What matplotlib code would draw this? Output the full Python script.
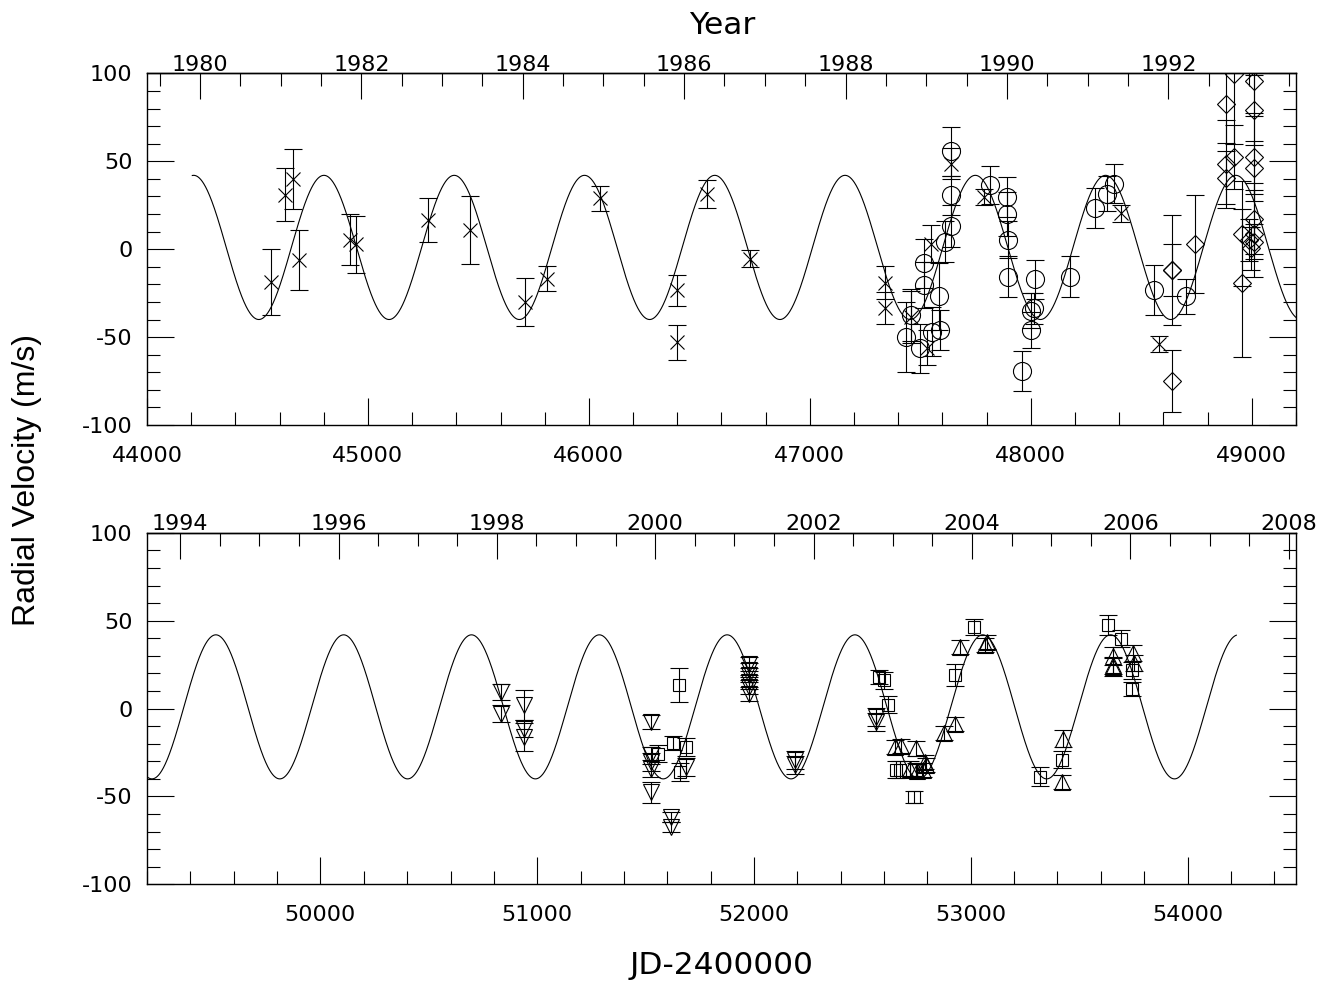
import numpy as np
import matplotlib.pyplot as plt
from matplotlib.ticker import MultipleLocator, FixedLocator, StrMethodFormatter

plt.rcParams['font.family'] = ['DejaVu Sans']
plt.rcParams['axes.unicode_minus'] = False

# circular orbit fit shown as the solid line
period = 589.6
k_amp = 41.0
gamma = 1.0
t_peak = 49517.6
model_start, model_end = 44205, 54225

# top panel data sets
cross_jd = [44561, 44623, 44659, 44688, 44919, 44948, 45274, 45462, 45712, 45809, 46049, 46398,
            46398, 46536, 46729, 47342, 47342, 47459, 47531, 47546, 47637, 47788, 48410, 48580]
cross_rv = [-18.6, 31.1, 39.8, -6.3, 5.5, 2.8, 16.5, 10.8, -30.1, -16.7, 29.0, -23.3,
            -53.0, 31.6, -5.3, -19.1, -33.4, -38.5, -56.0, 3.2, 48.7, 29.7, 20.3, -53.9]
cross_err = [18.9, 15.2, 17.0, 17.0, 14.5, 16.3, 12.6, 19.3, 13.8, 7.1, 7.1, 8.8,
             10.1, 8.0, 4.7, 9.4, 9.2, 15.0, 10.0, 10.4, 9.0, 4.7, 4.7, 4.7]

circ_jd = [47433, 47459, 47498, 47516, 47516, 47554, 47584, 47588, 47611, 47637, 47637, 47637,
           47815, 47893, 47891, 47895, 47896, 47961, 47999, 48002, 48019, 48016, 48177, 48290,
           48346, 48376, 48558, 48701]
circ_rv = [-49.8, -37.5, -56.4, -8.1, -20.5, -47.0, -26.7, -46.0, 4.2, 13.1, 30.7, 55.8,
           36.4, 29.7, 19.9, 5.5, -15.7, -69.1, -35.0, -46.0, -17.2, -33.7, -15.7, 23.5,
           31.6, 37.3, -23.3, -26.7]
circ_err = [19.9, 15.0, 13.9, 13.9, 13.0, 13.9, 19.0, 11.4, 11.6, 12.0, 11.0, 13.9,
            10.8, 11.6, 12.5, 10.4, 11.6, 11.4, 10.0, 10.0, 11.2, 9.0, 11.6, 11.5,
            10.0, 11.0, 14.2, 9.9]

diam_jd = [48641, 48641, 48641, 48742, 48882, 48882, 48882, 48920, 48920, 48958, 48958, 48988,
           48996, 49008, 49008, 49008, 49008, 49008, 49008, 49008]
diam_rv = [-11.9, -11.9, -74.8, 3.2, 82.4, 48.3, 40.7, 99.8, 52.4, 8.9, -19.1, 5.1,
           0.4, 95.6, 79.3, 52.4, 46.4, 17.4, 8.9, 4.2]
diam_err = [31.2, 15.0, 17.7, 27.9, 22.0, 25.0, 15.0, 40.0, 18.0, 30.0, 42.0, 12.0,
            12.0, 20.0, 20.0, 25.0, 15.0, 20.0, 25.0, 10.0]

# bottom panel data sets
dtri_jd = [50832, 50832, 50937, 50937, 50937, 51523, 51523, 51523, 51523, 51523, 51617, 51617,
           51685, 51979, 51979, 51979, 51979, 51979, 51979, 52190, 52190, 52563, 52563]
dtri_rv = [9.5, -2.8, 1.9, -11.4, -16.1, -7.6, -26.6, -30.4, -34.2, -47.5, -61.7, -67.4,
           -33.2, 25.6, 22.2, 19.0, 15.2, 12.3, 8.5, -32.2, -29.4, -4.7, -7.6]
dtri_err = [4.6, 4.8, 8.5, 5.0, 8.0, 4.0, 5.0, 5.0, 5.0, 6.0, 3.0, 3.0,
            5.0, 4.0, 4.0, 4.0, 4.0, 4.0, 4.0, 5.0, 5.0, 5.0, 5.0]

sq_jd = [51557, 51625, 51656, 51685, 51659, 52576, 52598, 52619, 52655, 52673, 52737, 52746,
         52928, 53015, 53318, 53422, 53634, 53691, 53744, 53744]
sq_rv = [-25.6, -19.5, 13.7, -21.8, -36.1, 18.0, 16.1, 2.3, -34.7, -34.7, -50.2, -35.0,
         19.0, 46.4, -38.8, -29.0, 47.4, 39.8, 21.8, 11.4]
sq_err = [5.0, 4.0, 9.7, 5.0, 5.0, 4.0, 5.0, 5.0, 5.0, 5.0, 3.4, 4.0,
          6.2, 4.5, 5.3, 5.0, 5.7, 5.0, 5.0, 4.0]

utri_jd = [52650, 52680, 52749, 52720, 52754, 52780, 52794, 52789, 52876, 52928, 52950, 53075,
           53066, 53426, 53419, 53657, 53657, 53657, 53749, 53752]
utri_rv = [-21.8, -21.4, -22.7, -34.1, -35.4, -34.7, -32.2, -30.3, -13.8, -8.9, 35.1, 37.9,
           36.0, -17.1, -41.7, 29.8, 24.6, 23.7, 31.6, 26.0]
utri_err = [4.0, 4.0, 4.0, 4.0, 4.0, 4.0, 4.0, 4.0, 4.0, 4.0, 4.0, 4.0,
            4.0, 5.0, 4.0, 5.0, 5.0, 5.0, 4.5, 4.5]

# year ticks on the top edge of each panel
top_years = [1980, 1982, 1984, 1986, 1988, 1990, 1992]
bottom_years = [1994, 1996, 1998, 2000, 2002, 2004, 2006, 2008]


def jd_to_year(jd):
    return 1980.0 + (np.asarray(jd) - 44239.5) / 365.25


def year_to_jd(yr):
    return 44239.5 + (np.asarray(yr) - 1980.0) * 365.25


fig = plt.figure(figsize=(13.22, 9.82), dpi=100)
ax1 = fig.add_axes([0.1112, 0.5672, 0.8691, 0.3581])
ax2 = fig.add_axes([0.1112, 0.0995, 0.8691, 0.3578])

t_model = np.linspace(model_start, model_end, 6000)
v_model = gamma + k_amp * np.cos(2 * np.pi * (t_model - t_peak) / period)

err_kw = dict(linestyle='none', mfc='none', mec='k', ecolor='k', elinewidth=0.8,
              capsize=6.5, capthick=0.8, mew=0.8)

ax1.errorbar(cross_jd, cross_rv, yerr=cross_err, fmt='x', ms=10, **err_kw)
ax1.errorbar(circ_jd, circ_rv, yerr=circ_err, fmt='o', ms=13, **err_kw)
ax1.errorbar(diam_jd, diam_rv, yerr=diam_err, fmt='D', ms=9, **err_kw)

ax2.errorbar(dtri_jd, dtri_rv, yerr=dtri_err, fmt='v', ms=11, **err_kw)
ax2.errorbar(sq_jd, sq_rv, yerr=sq_err, fmt='s', ms=9, **err_kw)
ax2.errorbar(utri_jd, utri_rv, yerr=utri_err, fmt='^', ms=11, **err_kw)

for ax, lo, hi, years in [(ax1, 44000, 49200, top_years), (ax2, 49200, 54500, bottom_years)]:
    ax.plot(t_model, v_model, color='k', lw=0.8)
    ax.set_xlim(lo, hi)
    ax.set_ylim(-100, 100)
    for sp in ax.spines.values():
        sp.set_linewidth(1.0)
    ax.xaxis.set_major_locator(MultipleLocator(1000))
    ax.xaxis.set_minor_locator(MultipleLocator(200))
    ax.yaxis.set_major_locator(MultipleLocator(50))
    ax.yaxis.set_minor_locator(MultipleLocator(10))
    ax.tick_params(which='both', direction='in', top=False, right=True, width=0.8)
    ax.tick_params(which='major', length=19.5, labelsize=16)
    ax.tick_params(which='minor', length=9.5)
    ax.tick_params(axis='x', which='major', pad=15)
    ax.tick_params(axis='y', which='major', pad=10.5)

    yr_lo, yr_hi = jd_to_year(lo), jd_to_year(hi)
    minor_years = [y for y in np.arange(1979.5, 2009.0, 0.5) if yr_lo < y < yr_hi]
    sec = ax.secondary_xaxis('top', functions=(jd_to_year, year_to_jd))
    sec.xaxis.set_major_locator(FixedLocator(years))
    sec.xaxis.set_minor_locator(FixedLocator(minor_years))
    sec.xaxis.set_major_formatter(StrMethodFormatter('{x:.0f}'))
    sec.tick_params(which='both', direction='in', width=0.8)
    sec.tick_params(which='major', length=19, labelsize=16, pad=-1)
    sec.tick_params(which='minor', length=9.5)
    sec.spines['top'].set_linewidth(1.0)

fig.text(0.5461, 0.9745, 'Year', fontsize=22.5, ha='center', va='center')
fig.text(0.5461, 0.0163, 'JD-2400000', fontsize=22.5, ha='center', va='center')
fig.text(0.0204, 0.511, 'Radial Velocity (m/s)', fontsize=23, rotation=90,
         ha='center', va='center', family=['Liberation Sans', 'DejaVu Sans'])

fig.savefig('out.png', dpi=100)
